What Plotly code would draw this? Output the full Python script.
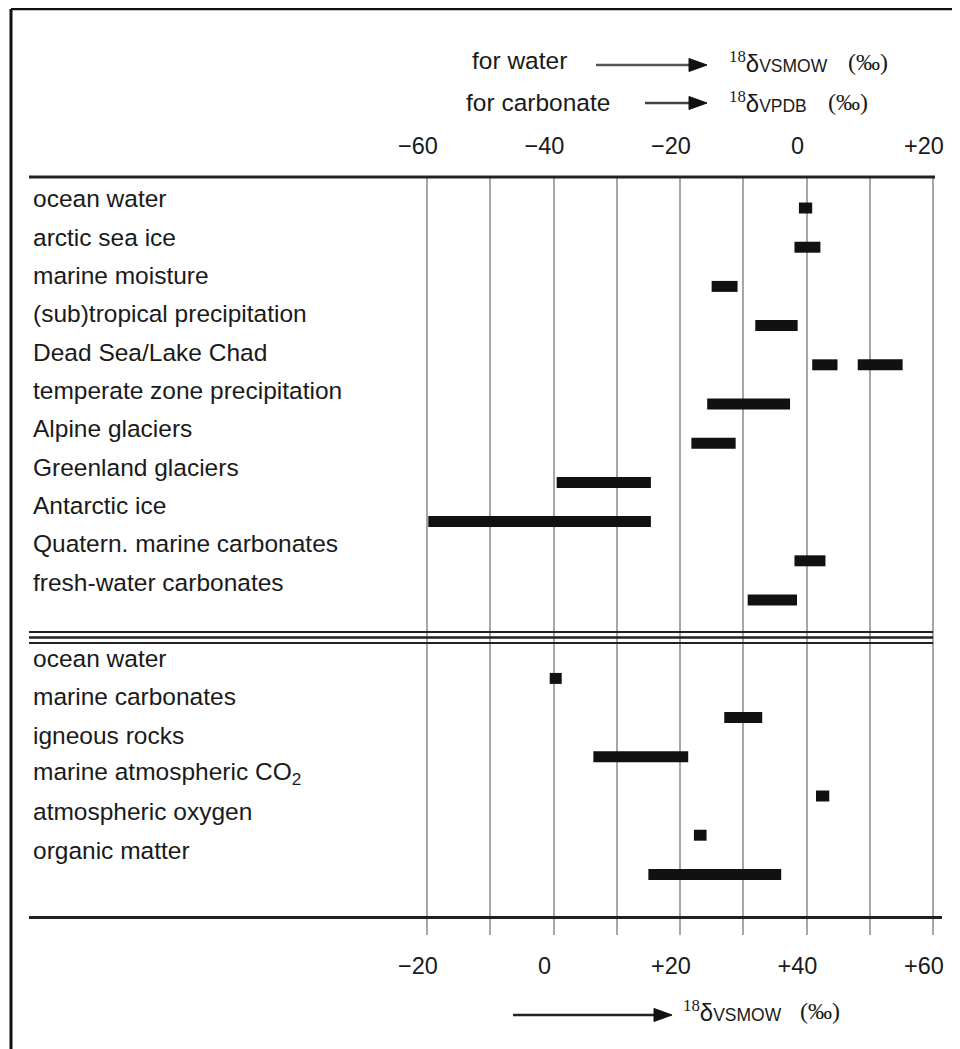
import plotly.graph_objects as go

# ---------------- data ----------------
upper_labels = ["ocean water", "arctic sea ice", "marine moisture",
                "(sub)tropical precipitation", "Dead Sea/Lake Chad",
                "temperate zone precipitation", "Alpine glaciers",
                "Greenland glaciers", "Antarctic ice",
                "Quatern. marine carbonates", "fresh-water carbonates"]
# segments (category, low, high) on the upper scale (water: VSMOW, carbonate: VPDB)
upper_seg_cat = ["ocean water", "arctic sea ice", "marine moisture",
                 "(sub)tropical precipitation", "Dead Sea/Lake Chad",
                 "Dead Sea/Lake Chad", "temperate zone precipitation",
                 "Alpine glaciers", "Greenland glaciers", "Antarctic ice",
                 "Quatern. marine carbonates", "fresh-water carbonates"]
upper_seg_low = [-1.2, -1.9, -15.0, -8.1, 0.9, 8.1, -15.7, -18.2, -39.5, -59.8, -1.9, -9.3]
upper_seg_high = [0.9, 2.2, -10.9, -1.4, 4.9, 15.2, -2.6, -11.2, -24.6, -24.6, 3.0, -1.5]

lower_labels = ["ocean water", "marine carbonates", "igneous rocks",
                "marine atmospheric CO<sub>2</sub>", "atmospheric oxygen",
                "organic matter"]
lower_low = [-0.6, 27.0, 6.3, 41.5, 22.2, 15.0]
lower_high = [1.3, 33.0, 21.3, 43.6, 24.2, 36.0]

bottom_tickvals = [-20, 0, 20, 40, 60]
bottom_ticktext = ["\u221220", "0", "+20", "+40", "+60"]
bottom_minor_tickvals = [-10, 10, 30, 50]
top_tickvals = [-60, -40, -20, 0, 20]
top_ticktext = ["\u221260", "\u221240", "\u221220", "0", "+20"]

# ---------------- figure ----------------
FONT = "Liberation Sans, Arial, sans-serif"
SERIF = "Liberation Serif"
BAR_COLOR = "#111111"
GRID = "#a6a6a6"
TXT = "#1a1a1a"
LOWER_OFFSET = 12  # row index of first lower-section row

# page is drawn with an 8px body margin; plot area in window pixels:
PL, PT, PW, PH = 29, 177, 913, 739


def px(x):
    return (x - PL) / PW


def py(y):
    return (PT + PH - y) / PH


upper_rows = [upper_labels.index(c) for c in upper_seg_cat]
lower_rows = [LOWER_OFFSET + i for i in range(len(lower_labels))]

fig = go.Figure()

fig.add_trace(go.Bar(
    orientation="h",
    y=upper_rows,
    base=upper_seg_low,
    x=[h - l for l, h in zip(upper_seg_low, upper_seg_high)],
    width=0.28,
    marker=dict(color=BAR_COLOR, line=dict(width=0)),
    xaxis="x2", yaxis="y",
    showlegend=False, hoverinfo="skip",
))
fig.add_trace(go.Bar(
    orientation="h",
    y=lower_rows,
    base=lower_low,
    x=[h - l for l, h in zip(lower_low, lower_high)],
    width=0.28,
    marker=dict(color=BAR_COLOR, line=dict(width=0)),
    xaxis="x", yaxis="y",
    showlegend=False, hoverinfo="skip",
))
# invisible trace so that the label axis (y2) exists
fig.add_trace(go.Scatter(x=[None], y=[None], xaxis="x", yaxis="y2",
                         showlegend=False, hoverinfo="skip"))

label_font = dict(family=FONT, size=24.5, color=TXT)
annotations = []
for i, lab in enumerate(upper_labels):
    annotations.append(dict(text=lab, x=px(31), xref="paper", xanchor="left",
                            y=i, yref="y2", yanchor="middle", showarrow=False,
                            font=label_font))
for i, lab in enumerate(lower_labels):
    annotations.append(dict(text=lab, x=px(31), xref="paper", xanchor="left",
                            y=LOWER_OFFSET + i, yref="y2", yanchor="middle",
                            showarrow=False, font=label_font))


def delta_label(sub):
    return ('<span style="font-family:%s"><sup>18</sup></span>δ'
            '<span style="font-size:17.5px">%s</span>' % (SERIF, sub))


hdr_font = dict(family=FONT, size=24.5, color=TXT)
d_font = dict(family=FONT, size=24, color=TXT)
pm_font = dict(family=SERIF, size=24, color=TXT)
# (delta text, left x, (‰) center x, y) in window pixels
for sub, xl, xpm, yv in [("VSMOW", 727, 868, 62), ("VPDB", 727, 848, 102),
                         ("VSMOW", 681, 820, 1011)]:
    annotations.append(dict(text=delta_label(sub), x=px(xl), y=py(yv),
                            xref="paper", yref="paper", xanchor="left",
                            yanchor="middle", showarrow=False, font=d_font))
    annotations.append(dict(text="(‰)", x=px(xpm), y=py(yv), xref="paper",
                            yref="paper", xanchor="center", yanchor="middle",
                            showarrow=False, font=pm_font))
annotations += [
    dict(text="for water", x=px(519), y=py(60), xref="paper", yref="paper",
         xanchor="center", yanchor="middle", showarrow=False, font=hdr_font),
    dict(text="for carbonate", x=px(538), y=py(102), xref="paper", yref="paper",
         xanchor="center", yanchor="middle", showarrow=False, font=hdr_font),
]

shapes = [
    # frame (top and left edges)
    dict(type="line", xref="paper", yref="paper", x0=px(11), x1=px(970),
         y0=py(9), y1=py(9), line=dict(color="#111", width=2.5)),
    dict(type="line", xref="paper", yref="paper", x0=px(11), x1=px(11),
         y0=py(9), y1=py(1060), line=dict(color="#111", width=3)),
    # top rule
    dict(type="line", xref="paper", yref="paper", x0=0, x1=px(935),
         y0=1, y1=1, line=dict(color="#222", width=3)),
]
# triple separator rule between sections
for yy, w in [(10.816, 2), (10.957, 2.5), (11.097, 2)]:
    shapes.append(dict(type="line", xref="paper", yref="y", x0=0, x1=px(933),
                       y0=yy, y1=yy, line=dict(color="#222", width=w)))

# arrows: (tail x, tip x, y, shaft colour)
for x0, x1, yv, col in [(596, 707, 65, "#555"), (645, 707, 103, "#444"),
                        (513, 672, 1015, "#222")]:
    shapes.append(dict(type="line", xref="paper", yref="paper",
                       x0=px(x0), x1=px(x1 - 14), y0=py(yv), y1=py(yv),
                       line=dict(color=col, width=2.5)))
    shapes.append(dict(type="path", xref="paper", yref="paper",
                       path="M %f %f L %f %f L %f %f Z" % (
                           px(x1 - 18), py(yv - 6.5), px(x1), py(yv),
                           px(x1 - 18), py(yv + 6.5)),
                       fillcolor="#111", line=dict(color="#111", width=1)))

fig.update_layout(
    width=952, height=1041,
    margin=dict(l=PL - 8, r=952 - (PL - 8) - PW, t=PT - 8, b=1041 - (PT - 8) - PH),
    paper_bgcolor="white", plot_bgcolor="white",
    barmode="overlay",
    font=dict(family=FONT, size=22, color=TXT),
    xaxis=dict(range=[-82.925, 61.423], tickmode="array",
               tickvals=bottom_tickvals, ticktext=bottom_ticktext,
               showgrid=True, gridcolor=GRID, gridwidth=1.5,
               zeroline=False, showline=True, linecolor="#222", linewidth=3,
               ticks="outside", ticklen=16, tickcolor=GRID, tickwidth=1.5,
               minor=dict(tickmode="array", tickvals=bottom_minor_tickvals,
                          ticks="outside", ticklen=16,
                          tickcolor=GRID, tickwidth=1.5, showgrid=True,
                          gridcolor=GRID, gridwidth=1.5),
               ticklabelshift=-9, ticklabelstandoff=11,
               tickfont=dict(family=FONT, size=23.5, color=TXT)),
    xaxis2=dict(range=[-122.925, 21.423], overlaying="x", side="top",
                tickmode="array", tickvals=top_tickvals, ticktext=top_ticktext,
                showgrid=False, zeroline=False, showline=False, ticks="",
                ticklabelshift=-9, ticklabelstandoff=17,
                tickfont=dict(family=FONT, size=23.5, color=TXT)),
    yaxis=dict(range=[18.061, -0.791], visible=False, showgrid=False,
               zeroline=False),
    yaxis2=dict(range=[18.72, -0.574], overlaying="y", visible=False,
                showgrid=False, zeroline=False),
    annotations=annotations,
    shapes=shapes,
)

fig.write_html("out.html")
